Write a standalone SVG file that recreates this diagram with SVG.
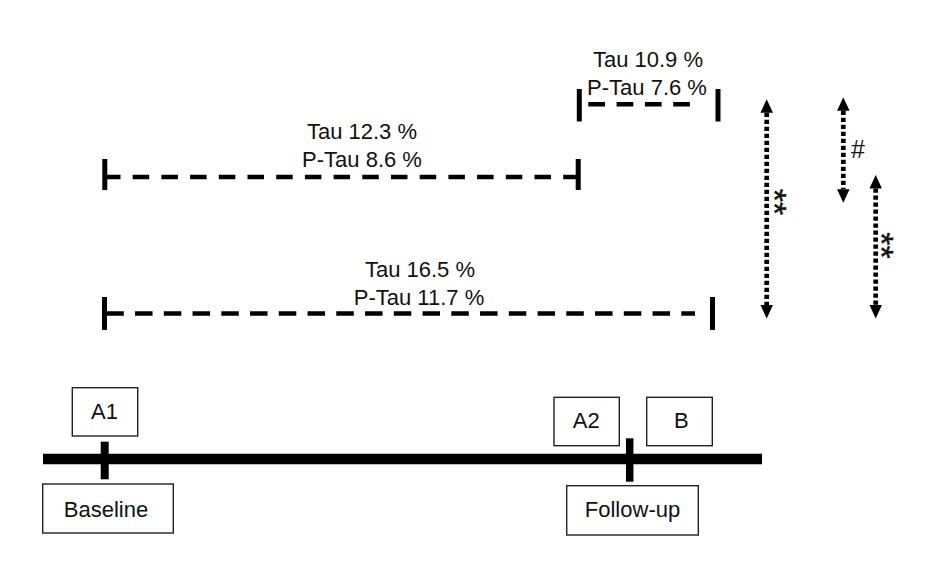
<svg xmlns="http://www.w3.org/2000/svg" width="950" height="583" viewBox="0 0 950 583">
  <style>
    text { font-family: "Liberation Sans", Arial, sans-serif; font-size: 22px; fill: #111; }
    .mid { text-anchor: middle; }
    .box { fill: #fff; stroke: #222; stroke-width: 1.4; }
    .tick { stroke: #000; stroke-width: 5; }
    .dash { stroke: #000; stroke-width: 4.5; fill: none; }
    .dot { stroke: #000; stroke-width: 4.7; stroke-dasharray: 4.3 2.7; fill: none; marker-start: url(#ah); marker-end: url(#ah); }
    .star { font-size: 34px; text-anchor: middle; stroke: #111; stroke-width: 0.4; }
  </style>
  <defs>
    <marker id="ah" markerUnits="userSpaceOnUse" markerWidth="14" markerHeight="13" refX="0" refY="6.25" orient="auto-start-reverse" viewBox="0 0 14 12.5">
      <path d="M0,0 L13.5,6.25 L0,12.5 z" fill="#000"/>
    </marker>
  </defs>
  <rect width="950" height="583" fill="#fff"/>

  <g id="connectors">
    <!-- interval 1: Baseline to A2 -->
    <line class="tick" x1="104.8" y1="159" x2="104.8" y2="190"/>
    <line class="dash" x1="104" y1="177" x2="578" y2="177" stroke-dasharray="16.5 12.2"/>
    <line class="tick" x1="578.2" y1="159" x2="578.2" y2="190"/>
    <!-- interval 2: Baseline to B -->
    <line class="tick" x1="104.5" y1="297" x2="104.5" y2="330"/>
    <line class="dash" x1="106.3" y1="313.5" x2="695" y2="313.5" stroke-dasharray="17.5 11.25"/>
    <line class="tick" x1="712.5" y1="297" x2="712.5" y2="330"/>
    <!-- interval 3: A2 to B -->
    <line class="tick" x1="579.3" y1="89" x2="579.3" y2="121.5"/>
    <line class="dash" x1="588.3" y1="104.2" x2="690" y2="104.2" stroke-dasharray="16.7 11.6"/>
    <line class="tick" x1="718" y1="89" x2="718" y2="121.5"/>
    <!-- comparison arrows -->
    <line class="dot" x1="766.7" y1="112.7" x2="766.7" y2="305"/>
    <line class="dot" x1="843.3" y1="110.8" x2="843.3" y2="189.2"/>
    <line class="dot" x1="875.7" y1="188.5" x2="875.7" y2="305"/>
  </g>

  <g id="label-interval1">
    <text class="mid" x="362" y="139.3">Tau 12.3 %</text>
    <text class="mid" x="362" y="166.7">P-Tau 8.6 %</text>
  </g>
  <g id="label-interval2">
    <text class="mid" x="420" y="277.3">Tau 16.5 %</text>
    <text class="mid" x="419" y="305">P-Tau 11.7 %</text>
  </g>
  <g id="label-interval3">
    <text class="mid" x="648" y="67.3">Tau 10.9 %</text>
    <text class="mid" x="647" y="95">P-Tau 7.6 %</text>
  </g>
  <g id="sig-1">
    <text class="star" x="762.5" y="202" transform="rotate(90 762.5 202)">**</text>
  </g>
  <g id="sig-2">
    <text class="mid" x="858" y="158" style="font-size:25px">#</text>
  </g>
  <g id="sig-3">
    <text class="star" x="869.5" y="245.5" transform="rotate(90 869.5 245.5)">**</text>
  </g>

  <g id="timeline">
    <line x1="43" y1="459" x2="762" y2="459" stroke="#000" stroke-width="10.5"/>
    <line x1="104.7" y1="441.7" x2="104.7" y2="479.3" stroke="#000" stroke-width="8"/>
    <line x1="629.7" y1="438.3" x2="629.7" y2="481.7" stroke="#000" stroke-width="7.5"/>
  </g>

  <g id="node-A1">
    <rect class="box" x="72.3" y="387.7" width="65.4" height="48.3"/>
    <text class="mid" x="104.5" y="419">A1</text>
  </g>
  <g id="node-Baseline">
    <rect class="box" x="42.7" y="484" width="130.6" height="49"/>
    <text class="mid" x="106" y="516.7">Baseline</text>
  </g>
  <g id="node-A2">
    <rect class="box" x="554" y="397.3" width="65.3" height="48.4"/>
    <text class="mid" x="586.3" y="428.3">A2</text>
  </g>
  <g id="node-B">
    <rect class="box" x="646.7" y="397.3" width="65.6" height="48.4"/>
    <text class="mid" x="681.3" y="428.3">B</text>
  </g>
  <g id="node-Followup">
    <rect class="box" x="566.7" y="485.7" width="131.6" height="49.3"/>
    <text class="mid" x="632.5" y="517">Follow-up</text>
  </g>
</svg>
